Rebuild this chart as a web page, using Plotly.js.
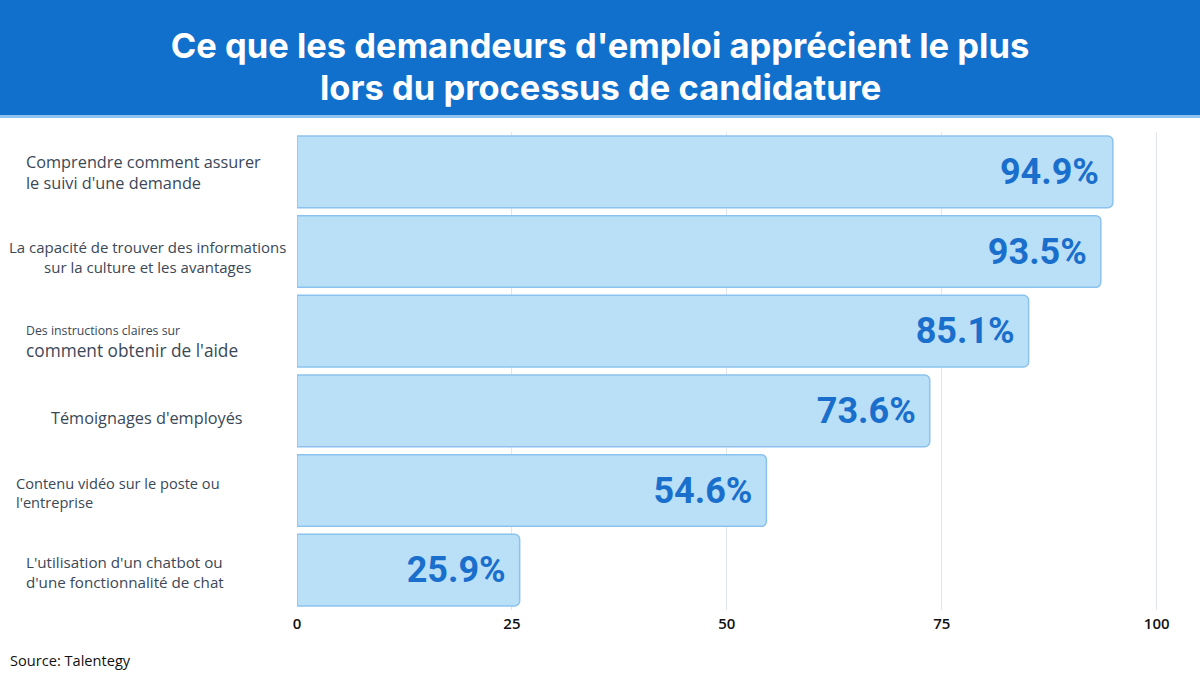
<!DOCTYPE html>
<html>
<head>
<meta charset="utf-8">
<script src="https://cdn.plot.ly/plotly-3.0.1.min.js"></script>
<style>html,body{margin:0;padding:0;background:#fff;}#chart{width:1200px;height:675px;}</style>
</head>
<body>
<div id="chart"></div>
<script>
// ---- data ----
const categories = [
  "Comprendre comment assurer<br>le suivi d'une demande",
  "La capacité de trouver des informations<br>sur la culture et les avantages",
  "<span style='font-size:12.3px'>Des instructions claires sur</span><br>comment obtenir de l'aide",
  "Témoignages d'employés",
  "Contenu vidéo sur le poste ou<br>l'entreprise",
  "L'utilisation d'un chatbot ou<br>d'une fonctionnalité de chat"
];
const values = [94.9, 93.5, 85.1, 73.6, 54.6, 25.9];
const xTicks = [0, 25, 50, 75, 100];
const titleLines = ["Ce que les demandeurs d'emploi apprécient le plus", "lors du processus de candidature"];
const sourceText = "Source: Talentegy";

// ---- label placement (styles) ----
const labelX = [-0.316, -0.1725, -0.316, -0.1736, -0.3274, -0.316];
const labelAnchor = ["left", "center", "left", "center", "left", "left"];
const labelYShift = [-1, -5, -11, -7, -2, -2];
const labelSize = [16.3, 15, 17.3, 16.3, 14.6, 15.2];

const trace = {
  type: 'bar',
  orientation: 'h',
  y: categories,
  x: values,
  marker: {color: '#bae0f8', line: {color: '#8cc2ee', width: 1.5}, cornerradius: 5},
  texttemplate: '%{x:.1f}%\u00a0',
  textposition: 'inside',
  insidetextanchor: 'end',
  textangle: 0,
  constraintext: 'none',
  textfont: {family: 'Roboto, Arial, sans-serif', size: 36, color: '#1a6fcc', weight: 'bold'},
  hoverinfo: 'none',
  cliponaxis: false
};

const titleFont = {family: 'Inter, Roboto, Arial, sans-serif', size: 34.5, color: '#ffffff', weight: 'bold'};

const annotations = categories.map((c, i) => ({
  xref: 'paper', yref: 'y', x: labelX[i], y: c,
  xanchor: labelAnchor[i], yanchor: 'middle', align: labelAnchor[i],
  yshift: labelYShift[i],
  text: c, showarrow: false,
  font: {family: 'Open Sans, sans-serif', size: labelSize[i], color: '#3b4857'}
}));
annotations.push({
  xref: 'paper', yref: 'paper', x: -0.3345, y: -0.1046, xanchor: 'left', yanchor: 'middle',
  text: sourceText, showarrow: false,
  font: {family: 'Open Sans, sans-serif', size: 14.6, color: '#111111'}
});
// second title line
annotations.push({
  xref: 'paper', yref: 'paper', x: (600 - 297) / 864, y: 1 + (132 - 87) / 478,
  xanchor: 'center', yanchor: 'middle',
  text: titleLines[1], showarrow: false, font: titleFont
});

const layout = {
  width: 1200, height: 675,
  margin: {l: 297, r: 39, t: 132, b: 65},
  paper_bgcolor: '#ffffff', plot_bgcolor: '#ffffff',
  showlegend: false,
  bargap: 0.1,
  title: {
    text: titleLines[0],
    x: 0.5, xref: 'container', xanchor: 'center',
    y: 1 - 46/675, yref: 'container', yanchor: 'middle',
    font: titleFont
  },
  xaxis: {
    range: [0, 100.5], tickvals: xTicks, ticktext: xTicks.map(String),
    showgrid: true, gridcolor: '#e1e6ec', gridwidth: 1, zeroline: false, showline: false,
    ticks: '', ticklabelstandoff: 3,
    tickfont: {family: 'Open Sans, sans-serif', size: 15, color: '#111111', weight: 600},
    fixedrange: true
  },
  yaxis: {
    autorange: 'reversed', showticklabels: false, showgrid: false, zeroline: false,
    showline: false, ticks: '', fixedrange: true
  },
  shapes: [
    {type: 'rect', xref: 'paper', yref: 'paper', x0: -0.5, x1: 1.5, y0: 1 + 17/478, y1: 1 + 132/478,
     fillcolor: '#1170cc', line: {width: 0}, layer: 'below'},
    {type: 'rect', xref: 'paper', yref: 'paper', x0: -0.5, x1: 1.5, y0: 1 + 14/478, y1: 1 + 17/478,
     fillcolor: '#8ec3f0', line: {width: 0}, layer: 'below'}
  ],
  annotations: annotations
};

Plotly.newPlot('chart', [trace], layout, {displayModeBar: false, staticPlot: true});
</script>
</body>
</html>
